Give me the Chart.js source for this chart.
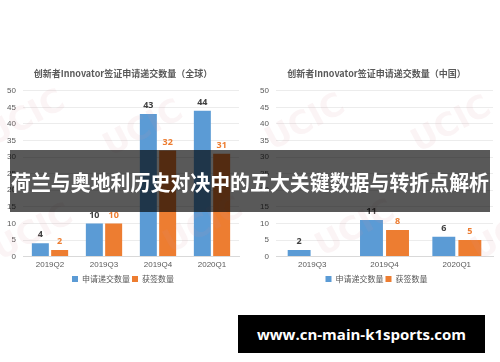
<!DOCTYPE html>
<html>
<head>
<meta charset="utf-8">
<script src="https://cdn.jsdelivr.net/npm/chart.js@4.4.1/dist/chart.umd.min.js"></script>
<style>
  body { margin: 0; background: #fff; width: 500px; height: 362px; overflow: hidden; position: relative; font-family: "Noto Sans CJK SC", "Noto Sans", sans-serif; }
  canvas { position: absolute; top: 62px; }
  #c1 { left: 0; }
  #c2 { left: 250px; }
  .wm { position: absolute; font-family: "DejaVu Sans", sans-serif; font-weight: bold; font-size: 32px; color: rgba(215, 150, 160, 0.1); transform: rotate(-28deg); white-space: nowrap; }
  .banner { position: absolute; left: 10px; top: 150px; width: 480px; height: 62px; background: rgba(0,0,0,0.65); }
  .banner span { position: absolute; left: 1px; top: 0; color: #fff; font-family: "Noto Sans CJK SC", sans-serif; font-size: 21px; font-weight: bold; line-height: 62px; white-space: nowrap; }
  .site { position: absolute; left: 238px; top: 315px; width: 247px; height: 38px; background: #000; color: #fff; font-family: "Open Sans", "DejaVu Sans", sans-serif; font-weight: bold; font-size: 15px; line-height: 38px; text-align: center; }
</style>
</head>
<body>
<canvas id="c1" width="250" height="235"></canvas>
<canvas id="c2" width="250" height="235"></canvas>
<div class="wm" style="left:-18px;top:98px;">UCIC</div>
<div class="wm" style="left:100px;top:108px;">UCIC</div>
<div class="wm" style="left:-10px;top:212px;">UCIC</div>
<div class="wm" style="left:160px;top:205px;">UCIC</div>
<div class="wm" style="left:262px;top:102px;">UCIC</div>
<div class="wm" style="left:408px;top:104px;">UCIC</div>
<div class="wm" style="left:312px;top:208px;">UCIC</div>
<div class="wm" style="left:468px;top:212px;">UCIC</div>
<div class="banner"><span id="bannerText">荷兰与奥地利历史对决中的五大关键数据与转折点解析</span></div>
<div class="site">www.cn-main-k1sports.com</div>
<script>
// 全球
const quartersGlobal = ["2019Q2", "2019Q3", "2019Q4", "2020Q1"];
const appliedGlobal = [4, 10, 43, 44];
const approvedGlobal = [2, 10, 32, 31];

// 中国
const quartersChina = ["2019Q3", "2019Q4", "2020Q1"];
const appliedChina = [2, 11, 6];
const approvedChina = [null, 8, 5];

const yTicks = [0, 5, 10, 15, 20, 25, 30, 35, 40, 45, 50];
const seriesNames = ["申请递交数量", "获签数量"];

const blue = "#5b9bd5";
const orange = "#ed7d31";
const textGray = "#595959";

// fit the banner line to the banner width
const bt = document.getElementById("bannerText");
const w = bt.getBoundingClientRect().width;
bt.style.transformOrigin = "left center";
bt.style.transform = "scaleX(" + (478 / w) + ")";

// value labels above bars
const barLabels = {
  id: "barLabels",
  afterDatasetsDraw(chart) {
    const ctx = chart.ctx;
    ctx.save();
    ctx.font = "bold 9px 'Noto Sans', sans-serif";
    ctx.textAlign = "center";
    ctx.textBaseline = "bottom";
    chart.data.datasets.forEach((ds, i) => {
      ctx.fillStyle = i === 0 ? "#404040" : orange;
      chart.getDatasetMeta(i).data.forEach((bar, j) => {
        if (ds.data[j] == null) return;
        ctx.fillText(ds.data[j], bar.x, bar.y - 4);
      });
    });
    ctx.restore();
  }
};

function makeChart(id, title, labels, applied, approved, catPct, padL, padR) {
  return new Chart(document.getElementById(id), {
    type: "bar",
    data: {
      labels: labels,
      datasets: [
        { label: seriesNames[0], data: applied, backgroundColor: blue, categoryPercentage: catPct, barPercentage: 0.88 },
        { label: seriesNames[1], data: approved, backgroundColor: orange, categoryPercentage: catPct, barPercentage: 0.88 }
      ]
    },
    options: {
      responsive: false,
      animation: false,
      devicePixelRatio: 1,
      layout: { padding: { left: padL, right: padR, top: 0, bottom: 4 } },
      plugins: {
        title: {
          display: true,
          text: title,
          color: textGray,
          font: { size: 9, weight: "bold", family: "'Noto Sans CJK SC', sans-serif" },
          padding: { top: 6, bottom: 12 }
        },
        legend: {
          position: "bottom",
          labels: {
            boxWidth: 6, boxHeight: 6, padding: 2, color: textGray,
            font: { size: 8, family: "'Noto Sans CJK SC', sans-serif" }
          }
        },
        tooltip: { enabled: false }
      },
      scales: {
        x: {
          grid: { display: false, drawTicks: false },
          border: { color: "#d9d9d9" },
          ticks: { color: textGray, font: { size: 8, lineHeight: 0.8 }, padding: 5 }
        },
        y: {
          min: 0, max: 50,
          afterBuildTicks: axis => { axis.ticks = yTicks.map(v => ({ value: v })); },
          afterFit: axis => { axis.width = 16; },
          grid: { color: "#ececec", drawTicks: false },
          border: { display: false },
          ticks: { color: textGray, font: { size: 8 }, padding: 7 }
        }
      }
    },
    plugins: [barLabels]
  });
}

makeChart("c1", "创新者Innovator签证申请递交数量（全球）", quartersGlobal, appliedGlobal, approvedGlobal, 0.715, 7, 11);
makeChart("c2", "创新者Innovator签证申请递交数量（中国）", quartersChina, appliedChina, approvedChina, 0.72, 10, 7);
</script>
</body>
</html>
